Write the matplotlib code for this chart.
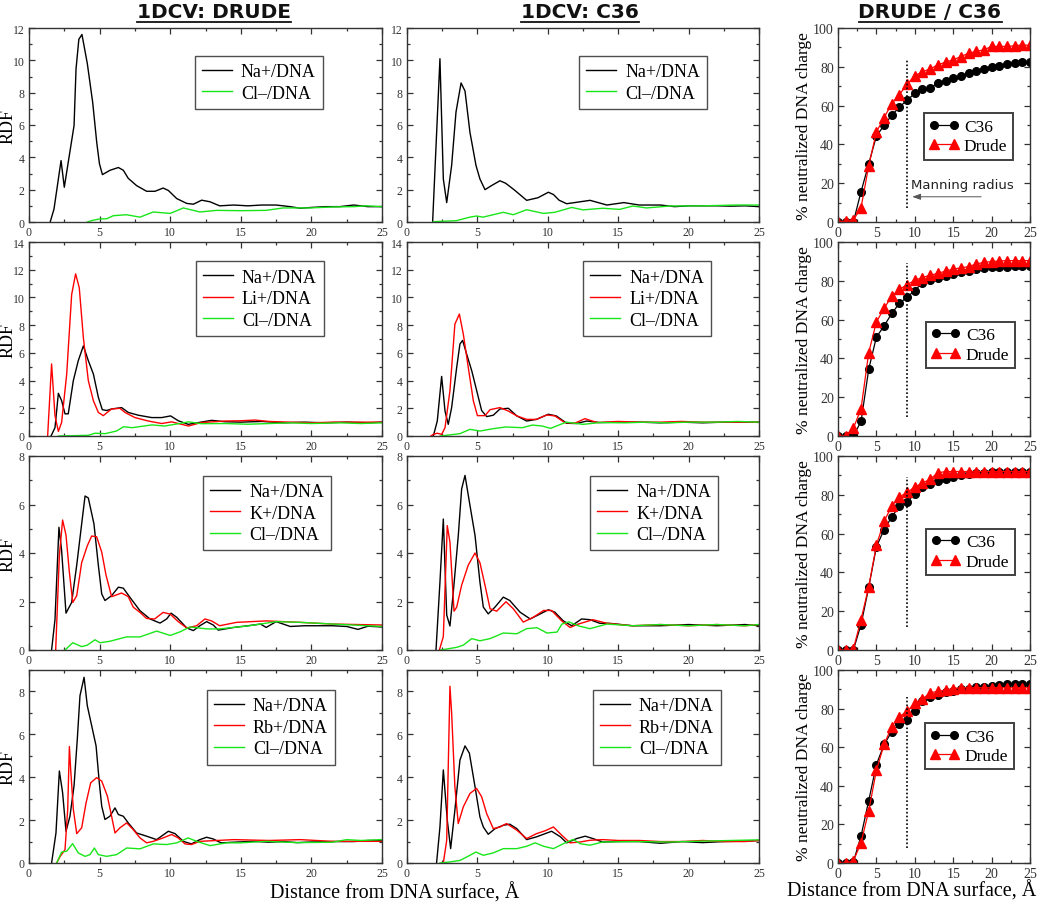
import numpy as np
import matplotlib
matplotlib.use('Agg')
import matplotlib.pyplot as plt
from matplotlib.lines import Line2D
from matplotlib.ticker import MultipleLocator

plt.rcParams['font.family'] = ['Liberation Serif', 'DejaVu Serif']

# ---------------- RDF data (distance from DNA surface, A) ----------------
# row 1: NaCl
r1_drude_na_x = [1.5, 1.77, 2.27, 2.5, 2.78, 3.19, 3.33, 3.53, 3.75, 4.13, 4.51, 4.8, 4.99, 5.2, 5.74, 6.33, 6.68, 7.03, 7.62, 8.33, 8.92, 9.5, 9.87, 10.46, 11.17, 11.64, 12.23, 12.82, 13.5, 14.5, 15.5, 16.5, 17.5, 18.5, 19.2, 20, 21, 22, 23, 24, 25]
r1_drude_na_y = [0, 0.8, 3.8, 2.15, 3.7, 5.96, 9.46, 11.3, 11.6, 9.8, 7.4, 4.9, 3.6, 2.93, 3.2, 3.37, 3.2, 2.7, 2.25, 1.9, 1.9, 2.1, 1.95, 1.45, 1.15, 1.1, 1.35, 1.25, 1.0, 1.05, 1.0, 1.05, 1.05, 0.95, 0.85, 0.9, 0.95, 0.95, 1.05, 0.95, 0.95]
r1_drude_cl_x = [4.13, 4.5, 5.03, 5.5, 5.97, 6.9, 7.86, 8.8, 10.0, 10.93, 12.1, 13.3, 15.0, 16.8, 18.0, 19.9, 21.5, 23.0, 23.9, 25]
r1_drude_cl_y = [0, 0.1, 0.19, 0.2, 0.39, 0.45, 0.3, 0.62, 0.53, 0.87, 0.62, 0.72, 0.7, 0.72, 0.87, 0.87, 0.93, 0.95, 1.0, 0.95]
r1_c36_na_x = [1.82, 2.34, 2.58, 2.82, 3.17, 3.48, 3.84, 4.12, 4.47, 4.9, 5.18, 5.54, 6.0, 6.6, 7.0, 7.6, 8.5, 9.3, 10.04, 10.4, 10.8, 11.34, 11.9, 13.0, 14.2, 15.4, 16.5, 18.0, 19.0, 20, 21, 22, 23, 24, 25]
r1_c36_na_y = [0, 10.1, 2.66, 1.2, 3.5, 6.8, 8.6, 8.1, 5.55, 3.5, 2.66, 2.0, 2.25, 2.55, 2.4, 2.0, 1.34, 1.5, 1.84, 1.7, 1.35, 1.13, 1.2, 1.34, 1.05, 1.2, 1.05, 1.05, 0.95, 1.0, 1.0, 1.0, 0.98, 1.0, 0.95]
r1_c36_cl_x = [1.86, 3.5, 4.47, 4.94, 5.4, 6.84, 7.55, 8.5, 9.7, 10.5, 11.7, 12.5, 13.9, 15.1, 16.05, 17.0, 18.7, 21.0, 23.4, 25]
r1_c36_cl_y = [0.02, 0.08, 0.3, 0.37, 0.3, 0.6, 0.45, 0.76, 0.53, 0.6, 0.9, 0.75, 0.85, 0.78, 0.99, 0.87, 0.99, 1.0, 1.05, 1.05]

# row 2: Na / Li
r2_drude_na_x = [1.56, 1.84, 2.08, 2.31, 2.55, 2.78, 3.14, 3.49, 3.85, 4.2, 4.56, 4.91, 5.19, 5.5, 5.85, 6.56, 7.03, 7.74, 8.69, 9.4, 10.03, 10.57, 11.28, 12.0, 12.94, 13.88, 15, 16.5, 18, 19.5, 21, 22.5, 24, 25]
r2_drude_na_y = [0, 0.6, 3.08, 2.55, 1.6, 1.6, 4.0, 5.44, 6.5, 5.44, 4.47, 2.8, 1.9, 1.84, 1.95, 2.05, 1.7, 1.5, 1.33, 1.33, 1.45, 1.1, 0.84, 0.97, 1.13, 1.03, 1.0, 1.05, 0.95, 1.0, 0.95, 1.0, 0.95, 1.0]
r2_drude_li_x = [1.32, 1.6, 1.84, 2.08, 2.31, 2.67, 3.02, 3.3, 3.56, 3.85, 4.2, 4.56, 4.91, 5.26, 5.85, 6.44, 6.8, 7.5, 8.45, 9.4, 10.1, 11.3, 12.2, 13.9, 15, 16, 17, 18.5, 20, 21.5, 23, 25]
r2_drude_li_y = [0, 5.2, 1.47, 0.33, 0.98, 4.47, 10.2, 11.7, 10.7, 7.1, 4.0, 2.55, 1.7, 1.47, 1.95, 2.0, 1.7, 1.33, 1.08, 0.9, 1.02, 0.72, 0.97, 1.08, 1.1, 1.15, 1.05, 1.0, 0.95, 1.0, 1.0, 1.0]
r2_drude_cl_x = [2.08, 4.2, 4.67, 5.4, 6.2, 6.7, 7.3, 8.7, 9.6, 10.6, 11.3, 12.2, 13.9, 15.5, 17, 18.5, 20, 22, 23.5, 25]
r2_drude_cl_y = [0, 0.05, 0.2, 0.17, 0.36, 0.67, 0.6, 0.8, 0.72, 0.89, 1.02, 0.89, 0.9, 0.85, 0.9, 0.95, 0.9, 0.95, 0.9, 0.95]
r2_c36_na_x = [1.87, 2.15, 2.46, 2.7, 2.93, 3.17, 3.53, 3.76, 3.95, 4.24, 4.6, 4.95, 5.3, 5.66, 6.13, 6.6, 7.2, 7.8, 8.5, 9.2, 10.04, 10.6, 11.34, 12.05, 12.76, 13.7, 15, 16.5, 18, 19.5, 21, 22.5, 24, 25]
r2_c36_na_y = [0, 1.08, 4.3, 1.8, 0.84, 2.05, 4.96, 6.64, 6.9, 5.9, 4.7, 3.27, 1.84, 1.4, 1.5, 1.95, 2.0, 1.45, 1.08, 1.2, 1.57, 1.45, 0.92, 0.9, 1.08, 0.97, 1.0, 1.0, 0.95, 1.0, 0.95, 1.0, 1.0, 1.0]
r2_c36_li_x = [1.7, 1.87, 2.15, 2.46, 2.7, 3.05, 3.4, 3.72, 4.0, 4.35, 4.71, 5.0, 5.54, 5.9, 6.6, 7.2, 7.8, 8.5, 9.2, 9.92, 10.5, 11.2, 11.9, 12.64, 13.5, 15, 16.5, 18, 19.5, 21, 22.5, 24, 25]
r2_c36_li_y = [0, 0.12, 0.2, 0.12, 0.6, 3.27, 8.07, 8.8, 7.35, 4.96, 2.55, 1.47, 1.47, 1.9, 2.05, 1.8, 1.45, 1.2, 1.2, 1.52, 1.45, 0.97, 0.92, 1.25, 0.97, 1.05, 1.0, 1.0, 1.05, 1.0, 1.0, 1.0, 1.0]
r2_c36_cl_x = [2.36, 3.76, 4.47, 5.2, 6.13, 7.0, 8.2, 8.9, 9.6, 10.2, 11.3, 12.5, 13.7, 15.5, 17, 18.5, 20, 22, 23.5, 25]
r2_c36_cl_y = [0, 0.17, 0.48, 0.36, 0.53, 0.65, 0.6, 0.79, 0.72, 0.55, 1.0, 0.84, 0.97, 0.95, 1.0, 0.95, 1.0, 1.0, 1.05, 1.0]

# row 3: Na / K
r3_drude_na_x = [1.6, 1.84, 2.12, 2.31, 2.62, 3.02, 3.38, 3.73, 3.97, 4.2, 4.6, 4.91, 5.15, 5.38, 5.85, 6.33, 6.68, 7.15, 7.86, 8.57, 9.28, 9.75, 10.06, 10.46, 11.17, 11.64, 12.1, 12.58, 13.05, 13.4, 14.5, 15.5, 16.4, 16.8, 17.5, 18.5, 19.5, 20.5, 21.5, 22.5, 23.3, 24, 25]
r3_drude_na_y = [0, 1.25, 5.06, 4.1, 1.52, 1.96, 3.5, 5.2, 6.35, 6.27, 5.2, 3.5, 2.31, 2.04, 2.24, 2.59, 2.55, 2.17, 1.62, 1.28, 1.11, 1.28, 1.52, 1.35, 0.91, 0.8, 1.0, 1.17, 1.03, 0.82, 0.93, 1.0, 1.07, 0.93, 1.17, 0.97, 1.0, 1.0, 1.0, 0.97, 0.85, 0.98, 0.95]
r3_drude_k_x = [1.89, 2.15, 2.38, 2.62, 2.86, 3.1, 3.38, 3.73, 4.13, 4.44, 4.79, 5.15, 5.45, 5.85, 6.56, 7.03, 7.38, 7.86, 8.33, 8.9, 9.5, 10.0, 10.57, 11.17, 11.87, 12.46, 12.93, 13.5, 14.7, 16.8, 19.2, 21.5, 25]
r3_drude_k_y = [0, 3.89, 5.36, 4.74, 3.2, 1.96, 2.24, 3.6, 4.3, 4.7, 4.67, 4.04, 3.1, 2.2, 2.35, 2.2, 1.77, 1.55, 1.3, 1.28, 1.55, 1.48, 1.17, 0.91, 1.0, 1.28, 1.2, 1.0, 1.14, 1.2, 1.14, 1.07, 1.03]
r3_drude_cl_x = [2.55, 3.1, 3.73, 4.13, 4.67, 5.03, 5.73, 6.9, 7.86, 9.04, 10.0, 10.7, 11.4, 12.6, 13.5, 15.6, 17.5, 19.2, 21.5, 25]
r3_drude_cl_y = [0, 0.3, 0.14, 0.2, 0.42, 0.3, 0.36, 0.54, 0.54, 0.78, 0.6, 0.75, 0.95, 0.87, 0.87, 1.0, 1.17, 1.14, 1.07, 0.97]
r3_c36_na_x = [2.06, 2.34, 2.58, 2.82, 3.05, 3.29, 3.64, 3.88, 4.12, 4.47, 4.83, 5.18, 5.42, 5.77, 6.25, 6.84, 7.3, 8.03, 8.75, 9.47, 10.04, 10.5, 11.1, 11.7, 12.4, 13.0, 13.7, 14.4, 16, 18, 20, 22, 24, 25]
r3_c36_na_y = [0, 2.8, 5.4, 1.44, 0.99, 2.4, 4.7, 6.64, 7.2, 5.97, 4.73, 2.8, 1.77, 1.49, 1.77, 2.18, 2.04, 1.56, 1.28, 1.49, 1.66, 1.56, 1.2, 1.0, 1.28, 1.25, 1.1, 1.1, 1.0, 1.0, 1.05, 1.0, 1.05, 1.0]
r3_c36_k_x = [2.3, 2.58, 2.86, 3.05, 3.34, 3.53, 3.88, 4.35, 4.83, 5.18, 5.54, 5.9, 6.37, 7.03, 7.55, 8.26, 8.97, 9.7, 10.27, 10.99, 11.58, 12.17, 13.2, 14.2, 16, 18, 20, 22, 24, 25]
r3_c36_k_y = [0, 0.55, 5.13, 4.45, 1.6, 1.77, 2.67, 3.5, 4.0, 3.6, 2.67, 1.7, 1.6, 1.99, 1.7, 1.15, 1.35, 1.63, 1.63, 1.2, 0.93, 1.07, 1.25, 1.1, 1.0, 1.05, 1.0, 1.05, 1.0, 1.05]
r3_c36_cl_x = [2.4, 3.53, 4.0, 4.6, 5.18, 5.9, 6.84, 7.8, 8.5, 9.23, 9.94, 10.66, 11.0, 11.5, 12.2, 13.0, 14.2, 16, 18, 20, 22, 24, 25]
r3_c36_cl_y = [0, 0.11, 0.2, 0.47, 0.38, 0.47, 0.7, 0.67, 0.88, 0.92, 0.7, 0.74, 1.07, 1.16, 0.99, 0.88, 1.07, 1.0, 1.05, 1.0, 1.05, 1.0, 1.05]

# row 4: Na / Rb
r4_drude_na_x = [1.6, 1.91, 2.15, 2.38, 2.62, 2.9, 3.19, 3.42, 3.61, 3.9, 4.13, 4.44, 4.75, 4.98, 5.15, 5.38, 5.73, 6.09, 6.33, 6.68, 7.03, 7.62, 8.33, 9.04, 9.87, 10.34, 10.93, 11.5, 12.1, 12.58, 13.05, 13.6, 14.5, 15.9, 17, 18, 19, 20, 21.5, 23, 24, 25]
r4_drude_na_y = [0, 1.4, 4.29, 3.28, 1.48, 2.18, 3.6, 5.77, 7.8, 8.66, 7.33, 6.4, 5.46, 3.74, 2.65, 2.03, 2.18, 2.57, 2.26, 2.18, 1.87, 1.4, 1.25, 1.09, 1.48, 1.37, 1.01, 0.89, 1.09, 1.2, 1.12, 0.94, 0.97, 1.01, 0.97, 1.0, 0.95, 0.98, 1.0, 1.0, 1.05, 1.05]
r4_drude_rb_x = [1.96, 2.2, 2.55, 2.74, 2.86, 2.95, 3.14, 3.38, 3.73, 4.04, 4.37, 4.79, 5.15, 5.55, 5.85, 6.09, 6.44, 6.92, 7.38, 7.86, 8.33, 8.8, 9.5, 10.1, 10.57, 11.05, 11.5, 12.1, 13.3, 14.5, 17, 19.2, 21.5, 25]
r4_drude_rb_y = [0, 0.3, 0.62, 2.5, 5.43, 4.37, 2.5, 1.37, 1.64, 2.8, 3.74, 3.98, 3.82, 3.12, 2.18, 1.4, 1.64, 1.87, 1.56, 1.17, 0.94, 1.01, 1.17, 1.33, 1.17, 0.89, 0.86, 1.01, 1.05, 1.09, 1.05, 1.09, 1.01, 1.01]
r4_drude_cl_x = [1.96, 2.31, 2.67, 3.09, 3.49, 3.97, 4.32, 4.63, 4.91, 5.5, 6.2, 6.92, 7.86, 8.8, 9.75, 10.46, 11.28, 11.87, 12.82, 14.0, 14.94, 16.8, 19, 21.5, 22.5, 23.5, 25]
r4_drude_cl_y = [0, 0.51, 0.55, 0.9, 0.47, 0.31, 0.39, 0.7, 0.39, 0.31, 0.39, 0.7, 0.66, 0.89, 0.86, 0.94, 1.17, 1.01, 0.81, 0.94, 0.94, 1.01, 0.95, 0.97, 1.09, 1.05, 1.09]
r4_c36_na_x = [2.1, 2.34, 2.58, 2.86, 3.1, 3.4, 3.76, 4.12, 4.43, 4.83, 5.18, 5.42, 5.77, 6.25, 6.84, 7.3, 7.8, 8.5, 9.2, 10.27, 10.9, 11.34, 12.05, 12.66, 13.2, 13.9, 15, 16.5, 18, 19.5, 21, 22.5, 24, 25]
r4_c36_na_y = [0, 1.68, 4.34, 2.0, 0.67, 2.46, 4.8, 5.46, 5.12, 3.56, 2.15, 1.68, 1.34, 1.6, 1.76, 1.81, 1.6, 1.09, 1.22, 1.48, 1.22, 0.94, 1.14, 1.25, 1.14, 0.98, 1.0, 1.0, 0.92, 1.0, 0.95, 1.0, 1.02, 1.05]
r4_c36_rb_x = [2.58, 2.82, 3.05, 3.17, 3.4, 3.64, 4.0, 4.47, 4.94, 5.3, 5.66, 6.13, 6.6, 7.07, 7.8, 8.5, 9.2, 9.8, 10.4, 11.0, 11.58, 12.3, 13.0, 13.9, 15, 16.5, 18, 19.5, 21, 22.5, 24, 25]
r4_c36_rb_y = [0, 1.06, 8.24, 7.0, 3.56, 1.84, 2.62, 3.24, 3.48, 3.09, 2.3, 1.6, 1.68, 1.84, 1.53, 1.14, 1.37, 1.5, 1.68, 1.29, 0.94, 0.98, 1.06, 1.09, 1.05, 1.05, 1.0, 1.0, 1.05, 1.0, 1.0, 1.05]
r4_c36_cl_x = [2.34, 3.05, 3.76, 4.24, 4.9, 5.42, 6.13, 6.84, 7.8, 8.5, 9.1, 9.7, 10.4, 11.1, 11.8, 12.3, 13.0, 13.9, 16, 18.7, 21, 23, 25]
r4_c36_cl_y = [0, 0.05, 0.12, 0.28, 0.51, 0.36, 0.47, 0.67, 0.67, 0.78, 0.94, 0.78, 0.67, 0.9, 1.1, 0.9, 0.83, 0.98, 1.0, 0.98, 1.02, 1.05, 1.08]

# ---------------- neutralized DNA charge (%) ----------------
charge_x = list(range(26))
r1_charge_c36 = [0, 0, 0, 15.6, 30, 44.3, 49.8, 55, 59.3, 62.8, 66.3, 68.5, 69.2, 71.5, 72.7, 74, 75.4, 76.6, 77.9, 78.9, 79.8, 80.3, 81.3, 81.8, 82.7, 82.7]
r1_charge_drude = [0, 0.5, 1, 7.4, 29, 46.4, 53.8, 61, 65.7, 71, 75.4, 77.5, 78.9, 81, 82.4, 83.6, 85.3, 87, 87.9, 88.8, 90.5, 90.5, 90.5, 90.8, 91.3, 91]
r2_charge_c36 = [0, 0, 0, 7.5, 34.4, 51, 56.7, 63.2, 68.4, 71.6, 75, 79, 80.3, 81.5, 82.5, 83.4, 84.6, 85.2, 86, 86.4, 86.9, 87.3, 87.3, 87.6, 87.6, 87.6]
r2_charge_drude = [0, 0, 4, 14, 43, 58.8, 65.8, 72, 75.6, 78, 80.3, 81.7, 82.9, 83.8, 85, 86, 86.7, 87.3, 88.7, 89.5, 89.9, 90.2, 90.4, 90.4, 90.4, 90.4]
r3_charge_c36 = [0, 0, 0, 13.1, 32.3, 53.2, 62, 68.6, 74.2, 76.3, 80.6, 83.8, 85.5, 87.3, 88.1, 89.4, 90.2, 90.8, 91.3, 91.3, 91.6, 91.6, 91.6, 91.6, 91.6, 91.6]
r3_charge_drude = [0, 0, 0.5, 15.7, 32.6, 54.1, 66.3, 74.2, 78.9, 81.2, 84.1, 86, 88.1, 91.3, 92, 92, 92, 92, 92, 92, 92, 92, 92, 92, 92, 92]
r4_charge_c36 = [0, 0, 0.5, 14, 32.3, 51, 61.4, 68, 71.9, 74.2, 79, 83.8, 85.9, 87.3, 88.5, 89, 90.2, 90.4, 91.1, 91.3, 91.6, 92, 93, 93, 93, 93]
r4_charge_drude = [0, 0, 1, 10.5, 27, 48, 61.4, 70.7, 75.9, 78.5, 82.9, 85, 88.1, 89, 89.5, 90.4, 90.8, 90.8, 90.8, 90.8, 90.8, 90.8, 90.8, 90.8, 90.8, 90.8]

manning_radius = 9
manning_span = [(7, 84), (10, 89), (12, 89), (8, 86)]

rdf_ymax = [12, 14, 8, 9]
second_ion = [None, 'Li+/DNA', 'K+/DNA', 'Rb+/DNA']

BLACK, RED, GREEN = '#000000', '#ff0000', '#19e619'
AX_COL = '#333333'

drude_rows = [
    [(r1_drude_na_x, r1_drude_na_y), None, (r1_drude_cl_x, r1_drude_cl_y)],
    [(r2_drude_na_x, r2_drude_na_y), (r2_drude_li_x, r2_drude_li_y), (r2_drude_cl_x, r2_drude_cl_y)],
    [(r3_drude_na_x, r3_drude_na_y), (r3_drude_k_x, r3_drude_k_y), (r3_drude_cl_x, r3_drude_cl_y)],
    [(r4_drude_na_x, r4_drude_na_y), (r4_drude_rb_x, r4_drude_rb_y), (r4_drude_cl_x, r4_drude_cl_y)],
]
c36_rows = [
    [(r1_c36_na_x, r1_c36_na_y), None, (r1_c36_cl_x, r1_c36_cl_y)],
    [(r2_c36_na_x, r2_c36_na_y), (r2_c36_li_x, r2_c36_li_y), (r2_c36_cl_x, r2_c36_cl_y)],
    [(r3_c36_na_x, r3_c36_na_y), (r3_c36_k_x, r3_c36_k_y), (r3_c36_cl_x, r3_c36_cl_y)],
    [(r4_c36_na_x, r4_c36_na_y), (r4_c36_rb_x, r4_c36_rb_y), (r4_c36_cl_x, r4_c36_cl_y)],
]
charge_rows = [(r1_charge_c36, r1_charge_drude), (r2_charge_c36, r2_charge_drude),
               (r3_charge_c36, r3_charge_drude), (r4_charge_c36, r4_charge_drude)]

# legend anchors (upper-left corner, axes fraction)
leg_drude = [(0.47, 0.856), (0.473, 0.90), (0.493, 0.897), (0.504, 0.896)]
leg_c36 = [(0.489, 0.856), (0.50, 0.90), (0.52, 0.897), (0.528, 0.896)]
leg_charge = [(0.448, 0.56), (0.458, 0.587), (0.458, 0.624), (0.453, 0.724)]

W, H = 1050, 904
fig = plt.figure(figsize=(W / 100, H / 100), dpi=100)


def add_ax(x0, y0, x1, y1):
    return fig.add_axes([x0 / W, 1 - y1 / H, (x1 - x0) / W, (y1 - y0) / H])


def style_ax(ax, xmaj, xmin, ymaj, ymin, fs):
    ax.xaxis.set_major_locator(MultipleLocator(xmaj))
    ax.xaxis.set_minor_locator(MultipleLocator(xmin))
    ax.yaxis.set_major_locator(MultipleLocator(ymaj))
    ax.yaxis.set_minor_locator(MultipleLocator(ymin))
    ax.tick_params(which='both', direction='in', top=True, right=True,
                   color=AX_COL, width=0.9, labelcolor=AX_COL, labelsize=fs, pad=3)
    ax.tick_params(which='major', length=4)
    ax.tick_params(which='minor', length=2.5)
    for s in ax.spines.values():
        s.set_color(AX_COL)
        s.set_linewidth(1.0)


rows_px = [(29, 223), (243, 437), (457, 651), (671, 864)]
cols_px = [(29, 382), (407, 759)]
right_px = (838, 1030)

for i, (y0, y1) in enumerate(rows_px):
    for j, (rows, anchors) in enumerate([(drude_rows, leg_drude), (c36_rows, leg_c36)]):
        ax = add_ax(cols_px[j][0], y0, cols_px[j][1], y1)
        na, ion, cl = rows[i]
        ax.plot(na[0], na[1], color=BLACK, lw=1.0, label='Na+/DNA')
        if ion is not None:
            ax.plot(ion[0], ion[1], color=RED, lw=1.0, label=second_ion[i])
        ax.plot(cl[0], cl[1], color=GREEN, lw=1.0, label='Cl\u2013/DNA')
        ax.set_xlim(0, 25)
        ax.set_ylim(0, rdf_ymax[i])
        style_ax(ax, 5, 2.5, 2, 1, 8.5)
        leg = ax.legend(loc='upper left', bbox_to_anchor=anchors[i], fontsize=13,
                        frameon=True, fancybox=False, edgecolor='#222222',
                        handlelength=1.65, handletextpad=0.5, labelspacing=0.25,
                        borderpad=0.4, borderaxespad=0)
        leg.get_frame().set_linewidth(1.0)
        if j == 0:
            ax.set_ylabel('RDF', fontsize=13)
            ax.yaxis.set_label_coords(-0.036, 0.5)

    # charge panel
    ax = add_ax(right_px[0], y0, right_px[1], y1)
    c36, drude = charge_rows[i]
    ax.plot(charge_x, c36, color=BLACK, lw=0.9, marker='o', ms=5.5, label='C36')
    ax.plot(charge_x, drude, color=RED, lw=0.9, marker='^', ms=6.5, label='Drude')
    ax.plot([manning_radius, manning_radius], manning_span[i], color=BLACK, lw=1.2, ls=(0, (1, 1.3)))
    ax.set_xlim(0, 25)
    ax.set_ylim(0, 100)
    style_ax(ax, 5, 2.5, 20, 10, 10)
    leg = ax.legend(loc='upper left', bbox_to_anchor=leg_charge[i], fontsize=12.5,
                    frameon=True, fancybox=False, edgecolor='#111111', numpoints=2,
                    handlelength=1.7, handletextpad=0.3, labelspacing=0.2,
                    borderpad=0.3, borderaxespad=0)
    leg.get_frame().set_linewidth(1.4)
    ax.set_ylabel('% neutralized DNA charge', fontsize=12.5)
    ax.yaxis.set_label_coords(-0.135, 0.5)
    if i == 0:
        ax.annotate('', xy=(manning_radius + 0.3, 13), xytext=(19, 13),
                    arrowprops=dict(arrowstyle='-|>,head_length=0.5,head_width=0.18',
                                    color='#555555', lw=0.7))
        ax.text(16.2, 19.5, 'Manning radius', ha='center', va='center',
                fontsize=9.5, family='DejaVu Sans', color='#222222')

# column titles (bold, underlined)
titles = [('1DCV: DRUDE', 214), ('1DCV: C36', 580), ('DRUDE / C36', 930)]
title_objs = []
for txt, xc in titles:
    t = fig.text(xc / W, 1 - 12 / H, txt, ha='center', va='center', fontsize=14.5,
                 fontweight='bold', family='DejaVu Sans', color='#111111')
    title_objs.append(t)

fig.text(395 / W, 1 - 893 / H, 'Distance from DNA surface, \u00c5', ha='center', va='center', fontsize=14.5)
fig.text(912 / W, 1 - 891 / H, 'Distance from DNA surface, \u00c5', ha='center', va='center', fontsize=14.5)

fig.canvas.draw()
renderer = fig.canvas.get_renderer()
for t in title_objs:
    bb = t.get_window_extent(renderer)
    yline = (bb.y0 - 1.5) / H
    fig.add_artist(Line2D([bb.x0 / W, bb.x1 / W], [yline, yline], color='#111111', lw=1.3))

fig.savefig('out.png', dpi=100)
